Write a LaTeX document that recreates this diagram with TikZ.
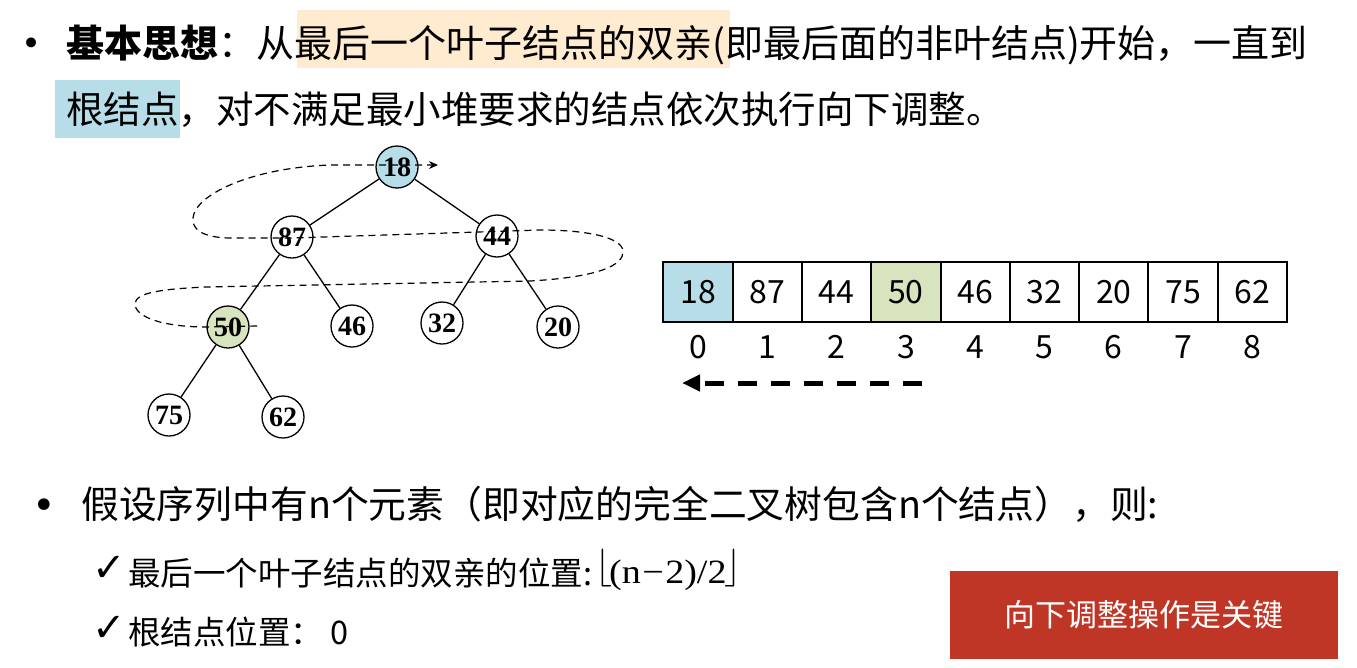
\RequirePackage{fix-cm}
\documentclass[tikz,border=0pt]{standalone}
\usepackage{fontspec}
\setmainfont{Noto Sans CJK SC}
\newfontfamily\tms{Liberation Serif}
\newfontfamily\tmswide[FakeStretch=1.12]{Liberation Serif}
\newfontfamily\dejavu{DejaVu Sans}
\usetikzlibrary{arrows.meta}
\definecolor{hlorange}{HTML}{FFEBD0}
\definecolor{hlblue}{HTML}{B7DEE8}
\definecolor{hlgreen}{HTML}{D7E4BD}
\definecolor{keyred}{HTML}{BF3626}
\tikzset{
  txt/.style={inner sep=0pt, anchor=base west},
  tnode/.style={circle, draw, line width=1.3pt, minimum size=42pt, inner sep=0pt,
    font=\tms\bfseries\fontsize{28}{28}\selectfont},
  edge/.style={line width=1.3pt},
  cell/.style={draw, line width=2pt, minimum width=69.3pt, minimum height=60pt,
    inner sep=0pt, font=\fontsize{32}{34}\selectfont},
  idx/.style={inner sep=0pt, font=\fontsize{32}{34}\selectfont},
  sweep/.style={dashed, dash pattern=on 7pt off 5pt, line width=1.2pt},
  tick/.style={txt, font=\dejavu\fontsize{40}{40}\selectfont},
}
\begin{document}
\begin{tikzpicture}[x=1pt,y=-1pt]
\useasboundingbox (0,0) rectangle (1357,667);
\fill[white] (0,0) rectangle (1357,667);
% highlights
\fill[hlorange] (297,10) rectangle (730,68);
\fill[hlblue] (55,80) rectangle (180,138);
% first bullet
\node[txt, font=\dejavu\fontsize{34}{34}\selectfont] (b1) at (21,55) {•};
\node[txt, font=\fontsize{38}{40}\selectfont] (l1a) at (66,57) {\textbf{基本思想}：};
\node[txt, font=\fontsize{38}{40}\selectfont] (l1b) at (256,57) {从最后一个叶子结点的双亲(即最后面的非叶结点)开始，一直到};
\node[txt, font=\fontsize{37.5}{40}\selectfont] (l2) at (66,123) {根结点，对不满足最小堆要求的结点依次执行向下调整。};
% tree
\node[tnode, fill=hlblue] (n18) at (397,167) {18};
\node[tnode] (n87) at (292,237) {87};
\node[tnode] (n44) at (497,236) {44};
\node[tnode, fill=hlgreen] (n50) at (228,327) {50};
\node[tnode] (n46) at (352,326) {46};
\node[tnode] (n32) at (442,323) {32};
\node[tnode] (n20) at (558,327) {20};
\node[tnode] (n75) at (169,415) {75};
\node[tnode] (n62) at (283,417) {62};
\draw[edge] (n18) -- (n87);
\draw[edge] (n18) -- (n44);
\draw[edge] (n87) -- (n50);
\draw[edge] (n87) -- (n46);
\draw[edge] (n44) -- (n32);
\draw[edge] (n44) -- (n20);
\draw[edge] (n50) -- (n75);
\draw[edge] (n50) -- (n62);
% sweep curve
\coordinate (sw0) at (257,326);
\coordinate (sw1) at (438,165);
\draw[sweep, -{Stealth[length=9pt,width=8pt]}] (sw0) -- (207,327)
  .. controls (160,327) and (135,316) .. (135,304)
  .. controls (135,292) and (165,289) .. (205,287)
  -- (530,281)
  .. controls (600,277) and (624,265) .. (623,251)
  .. controls (622,238) and (590,230) .. (540,230)
  -- (292,238) -- (232,238)
  .. controls (200,238) and (192,228) .. (193,218)
  .. controls (195,195) and (250,168) .. (330,165)
  -- (sw1);
% array
\node[cell, fill=hlblue] (c0) at (698,292) {18};
\node[cell] (c1) at (767.3,292) {87};
\node[cell] (c2) at (836.6,292) {44};
\node[cell, fill=hlgreen] (c3) at (905.9,292) {50};
\node[cell] (c4) at (975.2,292) {46};
\node[cell] (c5) at (1044.5,292) {32};
\node[cell] (c6) at (1113.8,292) {20};
\node[cell] (c7) at (1183.1,292) {75};
\node[cell] (c8) at (1252.4,292) {62};
\foreach \i in {0,...,8} {
  \node[idx] (i\i) at ({698+69.3*\i},347) {\i};
}
\coordinate (ar0) at (922,383);
\coordinate (ar1) at (682,383);
\draw[line width=5pt, dash pattern=on 19pt off 14pt, -{Triangle[length=18pt,width=16pt]}] (ar0) -- (ar1);
% bottom bullets
\node[txt, font=\dejavu\fontsize{40}{40}\selectfont] (b2) at (32,519) {•};
\node[txt, font=\fontsize{37.8}{40}\selectfont] (l3) at (81,518) {假设序列中有n个元素（即对应的完全二叉树包含n个结点），则:};
\node[tick] (ck1) at (92,581) {✓};
\node[txt, font=\fontsize{32.5}{34}\selectfont] (l4) at (128,585) {最后一个叶子结点的双亲的位置:};
\node[txt, font=\fontsize{38}{38}\selectfont] (fl) at (595,583) {\raisebox{5.5pt}{$\lfloor$}\kern-3pt{\tmswide\fontsize{34}{34}\selectfont(n\kern1.5pt−\kern1.5pt2)/2}\kern-2pt\raisebox{5.5pt}{$\rfloor$}};
\node[tick] (ck2) at (92,641) {✓};
\node[txt, font=\fontsize{32.5}{34}\selectfont] (l5) at (128,644) {根结点位置： 0};
% key box
\node[fill=keyred, minimum width=388pt, minimum height=88pt, inner sep=0pt,
  text=white, font=\fontsize{31}{33}\selectfont] (key) at (1144,615) {向下调整操作是关键};
\end{tikzpicture}
\end{document}
